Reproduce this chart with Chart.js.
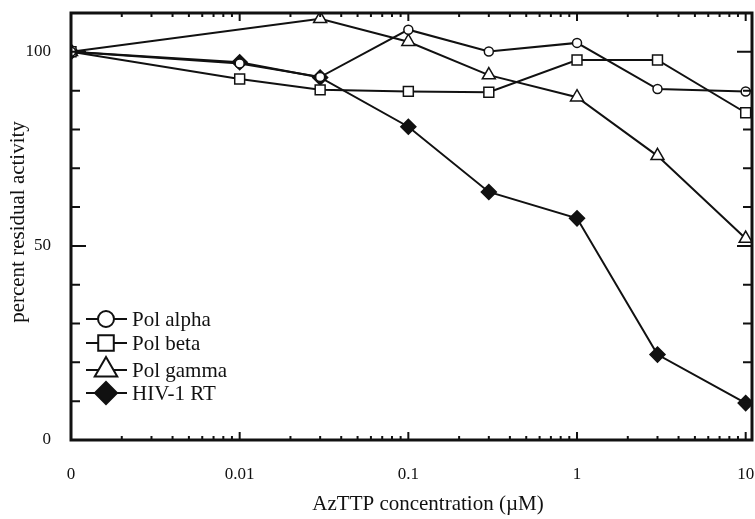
<!DOCTYPE html>
<html>
<head>
<meta charset="utf-8">
<script src="https://cdn.jsdelivr.net/npm/chart.js@4.4.1/dist/chart.umd.min.js"></script>
<style>
  html, body { margin: 0; padding: 0; background: #fff; overflow: hidden; }
  #wrap { width: 761px; height: 519px; }
</style>
</head>
<body>
<div id="wrap"><canvas id="chart"></canvas></div>
<script>
// concentrations in uM (0 is put one decade below 0.01 on the log axis)
var concentrations = [0, 0.01, 0.03, 0.1, 0.3, 1, 3, 10];
var ZERO_POS = 0.001;

// percent residual activity (null = no point)
var polAlpha = [100, 97, 93.5, 105.7, 100.1, 102.3, 90.4, 89.8];
var polBeta  = [100, 93.0, 90.2, 89.8, 89.6, 97.9, 97.9, 84.3];
var polGamma = [100, null, 108.5, 102.6, 94.0, 88.3, 73.2, 51.9];
var hivRT    = [100, 97.3, 93.4, 80.7, 63.9, 57.1, 22.0, 9.5];

var xTicks = [0.001, 0.01, 0.1, 1, 10];
var yTicks = [0, 50, 100];

var SERIF = '"Liberation Serif", "DejaVu Serif", serif';
var INK = '#111';

function toPoints(vals) {
  return vals.map(function (v, i) {
    var c = concentrations[i];
    return { x: c === 0 ? ZERO_POS : c, y: v };
  });
}

// frame + inward tick marks on all four sides, plus axis titles
var framePlugin = {
  id: 'frame',
  afterDatasetsDraw: function (chart) {
    var ctx = chart.ctx, a = chart.chartArea;
    var xs = chart.scales.x, ys = chart.scales.y;
    ctx.save();
    ctx.strokeStyle = INK;
    ctx.lineWidth = 2;
    ctx.beginPath();
    for (var d = -3; d <= 1; d++) {
      for (var m = 1; m <= 9; m++) {
        var v = m * Math.pow(10, d);
        if (v > xs.max) break;
        var px = xs.getPixelForValue(v);
        var len = m === 1 ? 8 : 4;
        ctx.moveTo(px, a.bottom); ctx.lineTo(px, a.bottom - len);
        ctx.moveTo(px, a.top); ctx.lineTo(px, a.top + len);
      }
    }
    for (var y = 0; y <= 110; y += 10) {
      var py = ys.getPixelForValue(y);
      var l = (y % 50 === 0) ? 15 : 9;
      ctx.moveTo(a.left, py); ctx.lineTo(a.left + l, py);
      ctx.moveTo(a.right, py); ctx.lineTo(a.right - l, py);
    }
    ctx.stroke();
    ctx.lineWidth = 3;
    ctx.strokeRect(a.left, a.top, a.right - a.left, a.bottom - a.top);

    ctx.fillStyle = INK;
    ctx.font = '21px ' + SERIF;
    ctx.textAlign = 'center';
    ctx.textBaseline = 'middle';
    ctx.fillText('AzTTP concentration (\u00b5M)', 428, 504);
    ctx.translate(18, 222);
    ctx.rotate(-Math.PI / 2);
    ctx.fillText('percent residual activity', 0, 0);
    ctx.restore();
  }
};

// legend drawn inside the plot, lower left
var legendRows = [319, 343, 370, 393];
var legendPlugin = {
  id: 'insideLegend',
  afterDraw: function (chart) {
    var ctx = chart.ctx;
    ctx.save();
    ctx.font = '21px ' + SERIF;
    ctx.textBaseline = 'middle';
    chart.data.datasets.forEach(function (ds, i) {
      var y = legendRows[i];
      ctx.strokeStyle = INK;
      ctx.lineWidth = 2;
      ctx.beginPath(); ctx.moveTo(86, y); ctx.lineTo(127, y); ctx.stroke();
      ctx.fillStyle = ds.pointBackgroundColor;
      Chart.helpers.drawPoint(ctx, { pointStyle: ds.pointStyle, radius: ds.legendRadius, borderWidth: 2 }, 106, y);
      ctx.fillStyle = INK;
      ctx.fillText(ds.label, 132, y + 1);
    });
    ctx.restore();
  }
};

function series(label, vals, style, radius, fill, legendRadius) {
  return {
    label: label,
    data: toPoints(vals),
    borderColor: INK,
    borderWidth: 2,
    pointStyle: style,
    pointRadius: radius,
    pointBorderWidth: 1.5,
    pointBorderColor: INK,
    pointBackgroundColor: fill,
    legendRadius: legendRadius,
    spanGaps: true,
    tension: 0
  };
}

new Chart(document.getElementById('chart'), {
  type: 'line',
  data: {
    datasets: [
      series('Pol alpha', polAlpha, 'circle', 4.5, '#fff', 8),
      series('Pol beta', polBeta, 'rect', 7, '#fff', 11),
      series('Pol gamma', polGamma, 'triangle', 7.5, '#fff', 13),
      series('HIV-1 RT', hivRT, 'rectRot', 7.5, INK, 11)
    ]
  },
  options: {
    responsive: true,
    maintainAspectRatio: false,
    animation: false,
    layout: { padding: { top: 13, right: 0, left: 0, bottom: 0 } },
    plugins: { legend: { display: false }, tooltip: { enabled: false } },
    scales: {
      x: {
        type: 'logarithmic',
        min: 0.001,
        max: 10.9,
        afterBuildTicks: function (s) { s.ticks = xTicks.map(function (v) { return { value: v }; }); },
        afterFit: function (s) { s.height = 79; s.paddingLeft = 0; s.paddingRight = 0; },
        grid: { display: false, drawTicks: false },
        border: { display: false },
        ticks: {
          autoSkip: false, maxRotation: 0, padding: 24, color: INK,
          font: { family: SERIF, size: 17 },
          callback: function (v) { return v === ZERO_POS ? '0' : String(v); }
        }
      },
      y: {
        min: 0,
        max: 110,
        afterBuildTicks: function (s) { s.ticks = yTicks.map(function (v) { return { value: v }; }); },
        afterFit: function (s) { s.width = 71; s.paddingTop = 0; s.paddingBottom = 0; },
        grid: { display: false, drawTicks: false },
        border: { display: false },
        ticks: { padding: 20, color: INK, font: { family: SERIF, size: 17 } }
      }
    }
  },
  plugins: [framePlugin, legendPlugin]
});
</script>
</body>
</html>
